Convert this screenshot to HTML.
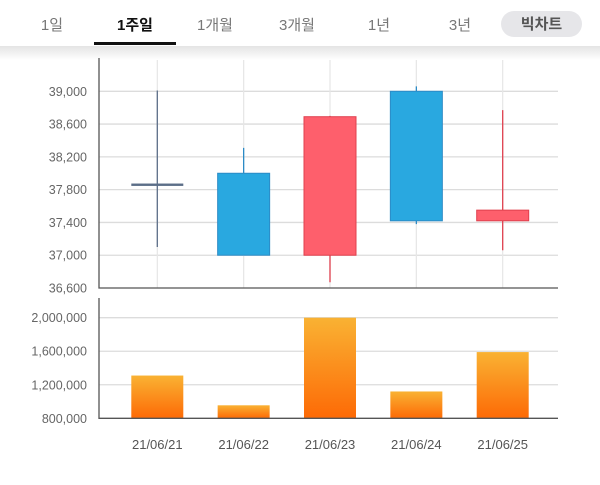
<!DOCTYPE html>
<html><head><meta charset="utf-8">
<style>
body{margin:0;width:600px;height:485px;background:#fff;overflow:hidden;font-family:"Liberation Sans","Noto Sans CJK KR",sans-serif}
svg{position:absolute;left:0;top:0}
</style></head>
<body>
<svg id="c" width="600" height="485">
<defs>
<linearGradient id="sh" x1="0" y1="0" x2="0" y2="1"><stop offset="0" stop-color="#e4e4e4"/><stop offset="1" stop-color="#fff"/></linearGradient>
<linearGradient id="vg" x1="0" y1="0" x2="0" y2="1"><stop offset="0" stop-color="#f9b233"/><stop offset="1" stop-color="#fd6a06"/></linearGradient>
</defs>
<rect x="0" y="46" width="600" height="14" fill="url(#sh)"/>
<g font-size="15" fill="#777" text-anchor="middle">
<text x="52" y="30">1일</text>
<text x="135" y="30" fill="#111" font-weight="bold">1주일</text>
<text x="215" y="30">1개월</text>
<text x="297" y="30">3개월</text>
<text x="379" y="30">1년</text>
<text x="460" y="30">3년</text>
</g>
<rect x="94" y="42" width="82" height="3" fill="#111"/>
<rect x="501" y="11" width="81" height="26" rx="13" fill="#e6e6e9"/>
<text x="541.5" y="29" font-size="15" font-weight="bold" fill="#555" text-anchor="middle">빅차트</text>
<g id="plot"></g>
</svg>
<script>
const dates=["21/06/21","21/06/22","21/06/23","21/06/24","21/06/25"];
const opens=[37860,38000,37000,39000,37420];
const closes=[37860,37000,38690,37420,37550];
const highs=[39010,38310,38700,39060,38770];
const lows=[37100,37000,36670,37380,37060];
const volumes=[1310000,955000,2000000,1120000,1590000];
const priceTicks=[39000,38600,38200,37800,37400,37000,36600];
const volTicks=[2000000,1600000,1200000,800000];

const NS="http://www.w3.org/2000/svg";
const g=document.getElementById('plot');
function mk(t,a,txt){const e=document.createElementNS(NS,t);for(const k in a)e.setAttribute(k,a[k]);if(txt!==undefined)e.textContent=txt;g.appendChild(e);return e;}
const L=99,R=558;
const xOf=i=>157.3+i*86.35;
const yP=v=>91.3+(39000-v)*(288-91.3)/2400;
const yV=v=>418.3+(800000-v)*(418.3-317.7)/1200000;
const fmt=v=>v.toLocaleString('en-US');

// price grid
priceTicks.forEach(v=>{
 if(v>36600){const l=mk('line',{x1:L,x2:R,y1:yP(v),y2:yP(v),stroke:'#dcdcdc','stroke-width':1.3});
 
 }
 const t=mk('text',{x:87,y:yP(v)+4.5,'font-size':12.5,fill:'#666','text-anchor':'end'},fmt(v));
 
 
});
dates.forEach((d,i)=>{
 const l=mk('line',{x1:xOf(i),x2:xOf(i),y1:60,y2:288,stroke:'#e6e6e6','stroke-width':1.2});
 
 
});
let ax=mk('path',{d:`M${L} 58V288H${R}`,fill:'none',stroke:'#555','stroke-width':1.3});



// candles
dates.forEach((d,i)=>{
 const o=opens[i],c=closes[i],x=xOf(i);
 const col=c>o?'#fe5f6c':(c<o?'#29a8e0':'#5c6e88');
 const st=c>o?'#e0404e':(c<o?'#2c8bc6':'#5c6e88');
 const w=mk('line',{x1:x,x2:x,y1:yP(highs[i]),y2:yP(lows[i]),stroke:st,'stroke-width':1.3});
 
 
 const top=yP(Math.max(o,c)),h=Math.max(yP(Math.min(o,c))-top,0);
 let b;
 if(h<1){b=mk('rect',{x:x-26,y:top-1.2,width:52,height:2.4,fill:col});}
 else b=mk('rect',{x:x-26,y:top,width:52,height:h,fill:col,stroke:st,'stroke-width':1});
 
 
});

// volume
volTicks.forEach(v=>{
 if(v>800000){const l=mk('line',{x1:L,x2:R,y1:yV(v),y2:yV(v),stroke:'#dcdcdc','stroke-width':1.3});
 
 }
 const t=mk('text',{x:87,y:yV(v)+4.5,'font-size':12.5,fill:'#666','text-anchor':'end'},fmt(v));
 
 
});
volumes.forEach((v,i)=>{
 const b=mk('rect',{x:xOf(i)-26,y:yV(v),width:52,height:418.3-yV(v),fill:'url(#vg)'});
 
 
});
ax=mk('path',{d:`M${L} 298V418.3H${R}`,fill:'none',stroke:'#555','stroke-width':1.3});


dates.forEach((d,i)=>{
 const t=mk('text',{x:xOf(i),y:449,'font-size':13,fill:'#555','text-anchor':'middle'},d);
 
 
});
</script>
</body></html>
